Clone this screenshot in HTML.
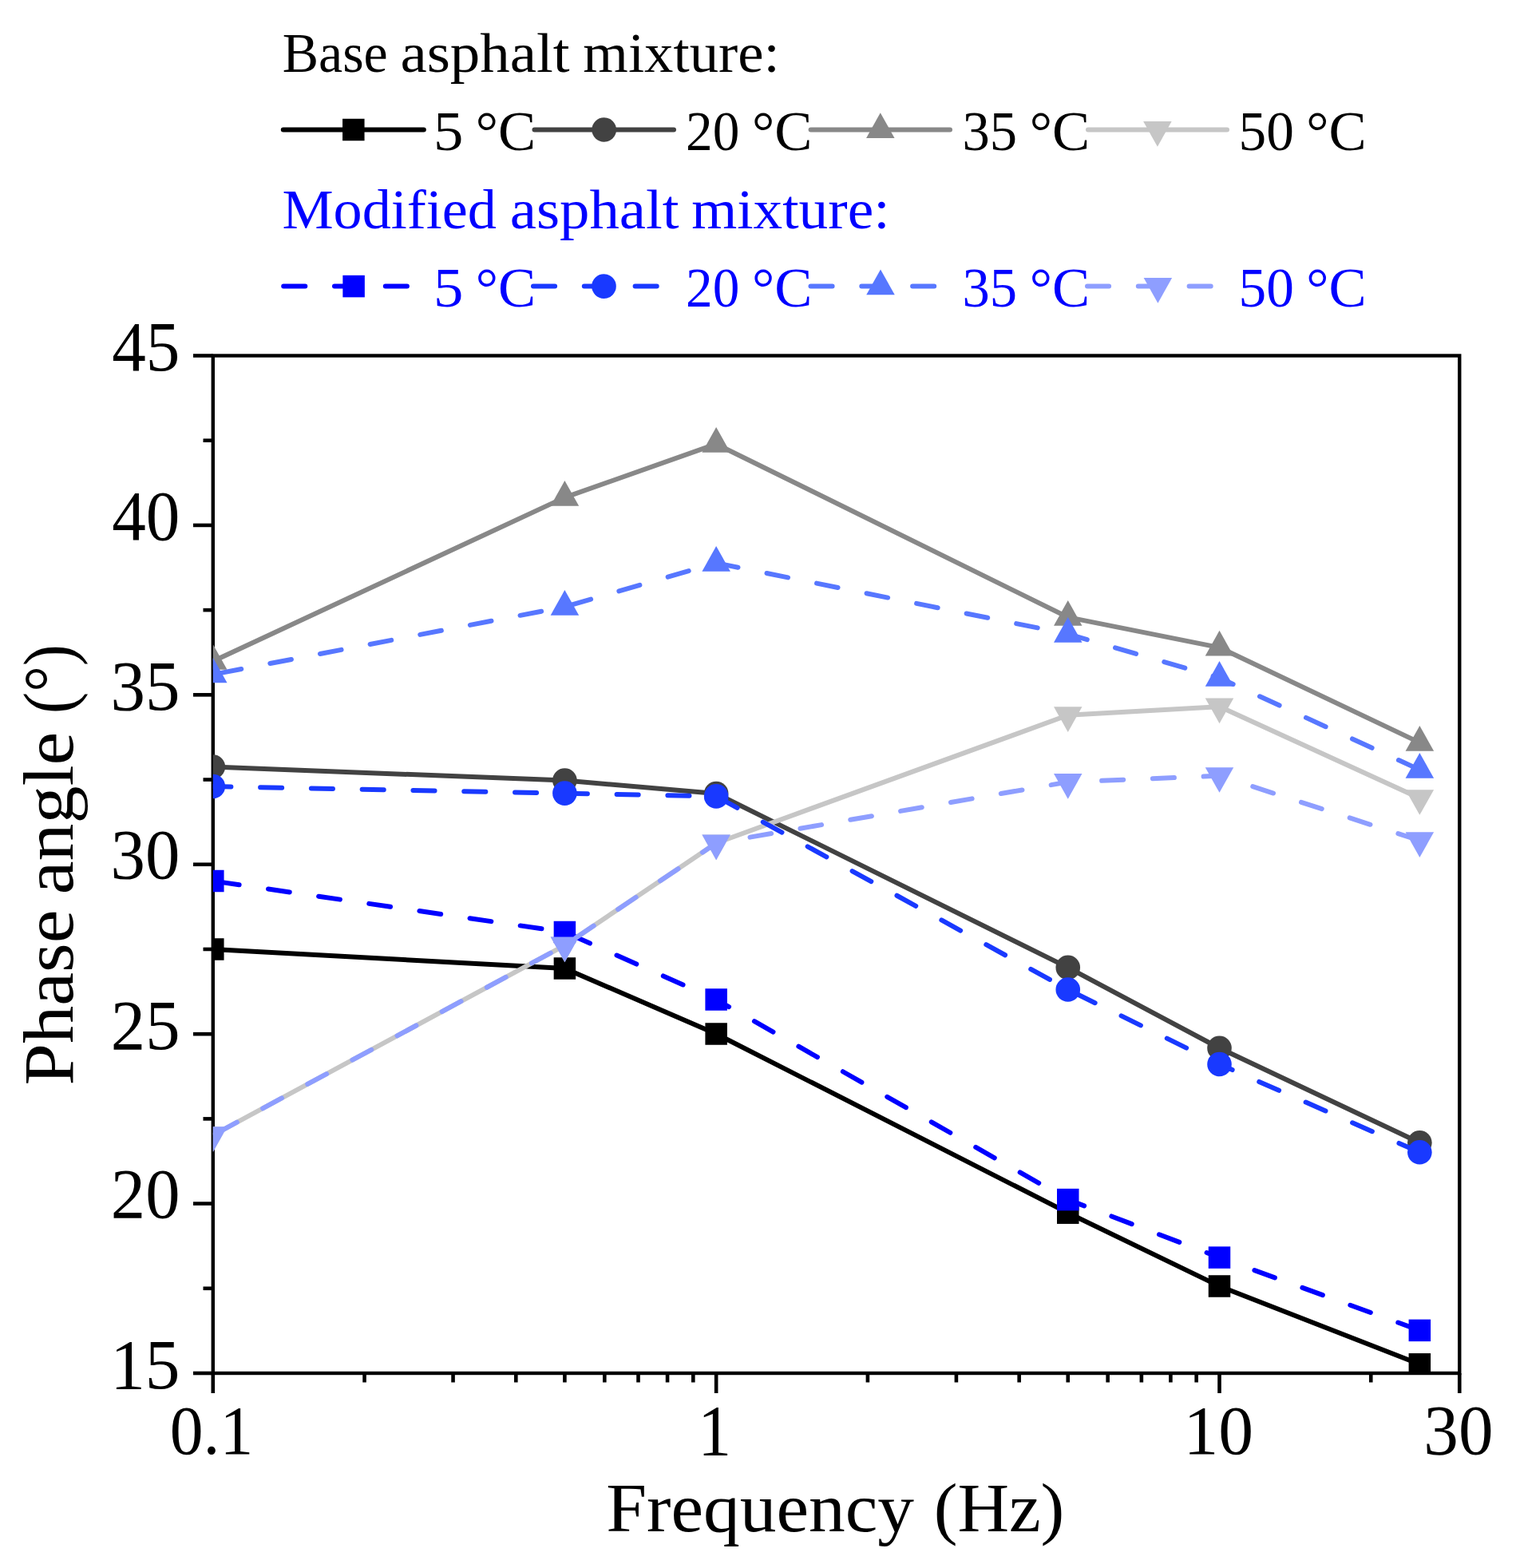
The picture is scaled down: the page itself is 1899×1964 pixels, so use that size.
<!DOCTYPE html>
<html><head><meta charset="utf-8"><title>Phase angle vs Frequency</title>
<style>html,body{margin:0;padding:0;background:#fff;width:1899px;height:1964px;overflow:hidden;}svg{display:block;}</style>
</head><body>
<svg width="1899" height="1964" viewBox="0 0 1899 1964">
<defs><clipPath id="pa"><rect x="266.8" y="445.5" width="1561.45" height="1274.5"/></clipPath></defs>
<rect width="1899" height="1964" fill="#fff"/>
<rect x="266.8" y="445.5" width="1561.45" height="1274.5" fill="none" stroke="#000" stroke-width="4.4"/>
<line x1="242" y1="1720.00" x2="266.8" y2="1720.00" stroke="#000" stroke-width="4.6"/>
<line x1="242" y1="1507.58" x2="266.8" y2="1507.58" stroke="#000" stroke-width="4.6"/>
<line x1="242" y1="1295.17" x2="266.8" y2="1295.17" stroke="#000" stroke-width="4.6"/>
<line x1="242" y1="1082.75" x2="266.8" y2="1082.75" stroke="#000" stroke-width="4.6"/>
<line x1="242" y1="870.33" x2="266.8" y2="870.33" stroke="#000" stroke-width="4.6"/>
<line x1="242" y1="657.92" x2="266.8" y2="657.92" stroke="#000" stroke-width="4.6"/>
<line x1="242" y1="445.50" x2="266.8" y2="445.50" stroke="#000" stroke-width="4.6"/>
<line x1="254.5" y1="1613.79" x2="266.8" y2="1613.79" stroke="#000" stroke-width="4.6"/>
<line x1="254.5" y1="1401.38" x2="266.8" y2="1401.38" stroke="#000" stroke-width="4.6"/>
<line x1="254.5" y1="1188.96" x2="266.8" y2="1188.96" stroke="#000" stroke-width="4.6"/>
<line x1="254.5" y1="976.54" x2="266.8" y2="976.54" stroke="#000" stroke-width="4.6"/>
<line x1="254.5" y1="764.12" x2="266.8" y2="764.12" stroke="#000" stroke-width="4.6"/>
<line x1="254.5" y1="551.71" x2="266.8" y2="551.71" stroke="#000" stroke-width="4.6"/>
<line x1="266.80" y1="1720.0" x2="266.80" y2="1745" stroke="#000" stroke-width="4.6"/>
<line x1="897.15" y1="1720.0" x2="897.15" y2="1745" stroke="#000" stroke-width="4.6"/>
<line x1="1527.50" y1="1720.0" x2="1527.50" y2="1745" stroke="#000" stroke-width="4.6"/>
<line x1="1828.25" y1="1720.0" x2="1828.25" y2="1745" stroke="#000" stroke-width="4.6"/>
<line x1="456.55" y1="1720.0" x2="456.55" y2="1731.5" stroke="#000" stroke-width="4.6"/>
<line x1="567.55" y1="1720.0" x2="567.55" y2="1731.5" stroke="#000" stroke-width="4.6"/>
<line x1="646.31" y1="1720.0" x2="646.31" y2="1731.5" stroke="#000" stroke-width="4.6"/>
<line x1="707.40" y1="1720.0" x2="707.40" y2="1731.5" stroke="#000" stroke-width="4.6"/>
<line x1="757.31" y1="1720.0" x2="757.31" y2="1731.5" stroke="#000" stroke-width="4.6"/>
<line x1="799.51" y1="1720.0" x2="799.51" y2="1731.5" stroke="#000" stroke-width="4.6"/>
<line x1="836.06" y1="1720.0" x2="836.06" y2="1731.5" stroke="#000" stroke-width="4.6"/>
<line x1="868.31" y1="1720.0" x2="868.31" y2="1731.5" stroke="#000" stroke-width="4.6"/>
<line x1="1086.90" y1="1720.0" x2="1086.90" y2="1731.5" stroke="#000" stroke-width="4.6"/>
<line x1="1197.90" y1="1720.0" x2="1197.90" y2="1731.5" stroke="#000" stroke-width="4.6"/>
<line x1="1276.66" y1="1720.0" x2="1276.66" y2="1731.5" stroke="#000" stroke-width="4.6"/>
<line x1="1337.75" y1="1720.0" x2="1337.75" y2="1731.5" stroke="#000" stroke-width="4.6"/>
<line x1="1387.66" y1="1720.0" x2="1387.66" y2="1731.5" stroke="#000" stroke-width="4.6"/>
<line x1="1429.86" y1="1720.0" x2="1429.86" y2="1731.5" stroke="#000" stroke-width="4.6"/>
<line x1="1466.41" y1="1720.0" x2="1466.41" y2="1731.5" stroke="#000" stroke-width="4.6"/>
<line x1="1498.66" y1="1720.0" x2="1498.66" y2="1731.5" stroke="#000" stroke-width="4.6"/>
<line x1="1717.25" y1="1720.0" x2="1717.25" y2="1731.5" stroke="#000" stroke-width="4.6"/>
<g clip-path="url(#pa)">
<polyline points="266.80,1189.00 707.40,1213.00 897.15,1295.00 1337.75,1519.20 1527.50,1611.00 1778.34,1708.80" fill="none" stroke="#000000" stroke-width="6.0" stroke-linejoin="round"/>
<rect x="253.05" y="1175.25" width="27.5" height="27.5" fill="#000000"/>
<rect x="693.65" y="1199.25" width="27.5" height="27.5" fill="#000000"/>
<rect x="883.40" y="1281.25" width="27.5" height="27.5" fill="#000000"/>
<rect x="1324.00" y="1505.45" width="27.5" height="27.5" fill="#000000"/>
<rect x="1513.75" y="1597.25" width="27.5" height="27.5" fill="#000000"/>
<rect x="1764.59" y="1695.05" width="27.5" height="27.5" fill="#000000"/>
<polyline points="266.80,960.50 707.40,977.50 897.15,994.00 1337.75,1211.90 1527.50,1312.80 1778.34,1431.30" fill="none" stroke="#424242" stroke-width="6.0" stroke-linejoin="round"/>
<circle cx="266.80" cy="960.50" r="15.3" fill="#424242"/>
<circle cx="707.40" cy="977.50" r="15.3" fill="#424242"/>
<circle cx="897.15" cy="994.00" r="15.3" fill="#424242"/>
<circle cx="1337.75" cy="1211.90" r="15.3" fill="#424242"/>
<circle cx="1527.50" cy="1312.80" r="15.3" fill="#424242"/>
<circle cx="1778.34" cy="1431.30" r="15.3" fill="#424242"/>
<polyline points="266.80,828.20 707.40,623.10 897.15,556.20 1337.75,773.10 1527.50,811.00 1778.34,930.10" fill="none" stroke="#888888" stroke-width="6.0" stroke-linejoin="round"/>
<polygon points="266.80,807.07 284.55,838.77 249.05,838.77" fill="#888888"/>
<polygon points="707.40,601.97 725.15,633.67 689.65,633.67" fill="#888888"/>
<polygon points="897.15,535.07 914.90,566.77 879.40,566.77" fill="#888888"/>
<polygon points="1337.75,751.97 1355.50,783.67 1320.00,783.67" fill="#888888"/>
<polygon points="1527.50,789.87 1545.25,821.57 1509.75,821.57" fill="#888888"/>
<polygon points="1778.34,908.97 1796.09,940.67 1760.59,940.67" fill="#888888"/>
<polyline points="266.80,1421.90 707.40,1184.10 897.15,1056.00 1337.75,895.80 1527.50,885.10 1778.34,999.70" fill="none" stroke="#c6c6c6" stroke-width="6.0" stroke-linejoin="round"/>
<polygon points="249.05,1411.33 284.55,1411.33 266.80,1443.03" fill="#c6c6c6"/>
<polygon points="689.65,1173.53 725.15,1173.53 707.40,1205.23" fill="#c6c6c6"/>
<polygon points="879.40,1045.43 914.90,1045.43 897.15,1077.13" fill="#c6c6c6"/>
<polygon points="1320.00,885.23 1355.50,885.23 1337.75,916.93" fill="#c6c6c6"/>
<polygon points="1509.75,874.53 1545.25,874.53 1527.50,906.23" fill="#c6c6c6"/>
<polygon points="1760.59,989.13 1796.09,989.13 1778.34,1020.83" fill="#c6c6c6"/>
<polyline points="266.80,1103.50 707.40,1167.50 897.15,1252.00 1337.75,1502.60 1527.50,1575.10 1778.34,1666.40" fill="none" stroke="#0000ff" stroke-width="6.0" stroke-linejoin="round" stroke-dasharray="27.1 36.7" stroke-dashoffset="-6.1" stroke-linecap="round"/>
<rect x="253.05" y="1089.75" width="27.5" height="27.5" fill="#0000ff"/>
<rect x="693.65" y="1153.75" width="27.5" height="27.5" fill="#0000ff"/>
<rect x="883.40" y="1238.25" width="27.5" height="27.5" fill="#0000ff"/>
<rect x="1324.00" y="1488.85" width="27.5" height="27.5" fill="#0000ff"/>
<rect x="1513.75" y="1561.35" width="27.5" height="27.5" fill="#0000ff"/>
<rect x="1764.59" y="1652.65" width="27.5" height="27.5" fill="#0000ff"/>
<polyline points="266.80,985.00 707.40,993.60 897.15,997.40 1337.75,1239.50 1527.50,1333.00 1778.34,1443.30" fill="none" stroke="#1939ff" stroke-width="6.0" stroke-linejoin="round" stroke-dasharray="27.1 36.7" stroke-dashoffset="4.5" stroke-linecap="round"/>
<circle cx="266.80" cy="985.00" r="15.3" fill="#1939ff"/>
<circle cx="707.40" cy="993.60" r="15.3" fill="#1939ff"/>
<circle cx="897.15" cy="997.40" r="15.3" fill="#1939ff"/>
<circle cx="1337.75" cy="1239.50" r="15.3" fill="#1939ff"/>
<circle cx="1527.50" cy="1333.00" r="15.3" fill="#1939ff"/>
<circle cx="1778.34" cy="1443.30" r="15.3" fill="#1939ff"/>
<polyline points="266.80,844.80 707.40,760.10 897.15,705.20 1337.75,794.10 1527.50,849.10 1778.34,964.20" fill="none" stroke="#5777ff" stroke-width="6.0" stroke-linejoin="round" stroke-dasharray="27.1 36.7" stroke-dashoffset="-9.0" stroke-linecap="round"/>
<polygon points="266.80,823.67 284.55,855.37 249.05,855.37" fill="#5777ff"/>
<polygon points="707.40,738.97 725.15,770.67 689.65,770.67" fill="#5777ff"/>
<polygon points="897.15,684.07 914.90,715.77 879.40,715.77" fill="#5777ff"/>
<polygon points="1337.75,772.97 1355.50,804.67 1320.00,804.67" fill="#5777ff"/>
<polygon points="1527.50,827.97 1545.25,859.67 1509.75,859.67" fill="#5777ff"/>
<polygon points="1778.34,943.07 1796.09,974.77 1760.59,974.77" fill="#5777ff"/>
<polyline points="266.80,1421.90 707.40,1184.10 897.15,1056.00 1337.75,979.50 1527.50,971.70 1778.34,1052.80" fill="none" stroke="#8e9eff" stroke-width="6.0" stroke-linejoin="round" stroke-dasharray="27.1 36.7" stroke-dashoffset="-7.0" stroke-linecap="round"/>
<polygon points="249.05,1411.33 284.55,1411.33 266.80,1443.03" fill="#8e9eff"/>
<polygon points="689.65,1173.53 725.15,1173.53 707.40,1205.23" fill="#8e9eff"/>
<polygon points="879.40,1045.43 914.90,1045.43 897.15,1077.13" fill="#8e9eff"/>
<polygon points="1320.00,968.93 1355.50,968.93 1337.75,1000.63" fill="#8e9eff"/>
<polygon points="1509.75,961.13 1545.25,961.13 1527.50,992.83" fill="#8e9eff"/>
<polygon points="1760.59,1042.23 1796.09,1042.23 1778.34,1073.93" fill="#8e9eff"/>
</g>
<g font-family="'Liberation Serif', serif">
<text transform="matrix(0.67979 0 0 0.70076 353.661 89.800)" font-size="100" fill="#000">Base</text>
<text transform="matrix(0.74910 0 0 0.70076 501.404 89.800)" font-size="100" fill="#000">asphalt</text>
<text transform="matrix(0.72736 0 0 0.70076 730.345 89.800)" font-size="100" fill="#000">mixture:</text>
<text transform="matrix(0.72147 0 0 0.70229 353.436 286.000)" font-size="100" fill="#0000ff">Modified</text>
<text transform="matrix(0.74803 0 0 0.70229 638.708 286.000)" font-size="100" fill="#0000ff">asphalt</text>
<text transform="matrix(0.73313 0 0 0.70229 866.234 286.000)" font-size="100" fill="#0000ff">mixture:</text>
<text transform="matrix(0.74750 0 0 0.69924 543.115 187.600)" font-size="100" fill="#000">5</text>
<text transform="matrix(0.70625 0 0 0.69924 595.769 187.600)" font-size="100" fill="#000">°C</text>
<text transform="matrix(0.74750 0 0 0.69924 543.115 383.700)" font-size="100" fill="#0000ff">5</text>
<text transform="matrix(0.70625 0 0 0.69924 595.769 383.700)" font-size="100" fill="#0000ff">°C</text>
<text transform="matrix(0.67283 0 0 0.69924 859.109 187.600)" font-size="100" fill="#000">20</text>
<text transform="matrix(0.70625 0 0 0.69924 941.969 187.600)" font-size="100" fill="#000">°C</text>
<text transform="matrix(0.67283 0 0 0.69924 859.109 383.700)" font-size="100" fill="#0000ff">20</text>
<text transform="matrix(0.70625 0 0 0.69924 941.969 383.700)" font-size="100" fill="#0000ff">°C</text>
<text transform="matrix(0.68571 0 0 0.69924 1205.571 187.600)" font-size="100" fill="#000">35</text>
<text transform="matrix(0.70625 0 0 0.69924 1289.669 187.600)" font-size="100" fill="#000">°C</text>
<text transform="matrix(0.68571 0 0 0.69924 1205.571 383.700)" font-size="100" fill="#0000ff">35</text>
<text transform="matrix(0.70625 0 0 0.69924 1289.669 383.700)" font-size="100" fill="#0000ff">°C</text>
<text transform="matrix(0.69333 0 0 0.69924 1551.540 187.600)" font-size="100" fill="#000">50</text>
<text transform="matrix(0.70625 0 0 0.69924 1636.369 187.600)" font-size="100" fill="#000">°C</text>
<text transform="matrix(0.69333 0 0 0.69924 1551.540 383.700)" font-size="100" fill="#0000ff">50</text>
<text transform="matrix(0.70625 0 0 0.69924 1636.369 383.700)" font-size="100" fill="#0000ff">°C</text>
<text transform="matrix(0.85213 0 0 0.89394 140.196 464.106)" font-size="100" fill="#000">45</text>
<text transform="matrix(0.85213 0 0 0.88060 140.196 675.655)" font-size="100" fill="#000">40</text>
<text transform="matrix(0.86923 0 0 0.89394 138.554 888.939)" font-size="100" fill="#000">35</text>
<text transform="matrix(0.86923 0 0 0.88060 138.554 1100.489)" font-size="100" fill="#000">30</text>
<text transform="matrix(0.86630 0 0 0.89394 138.835 1313.773)" font-size="100" fill="#000">25</text>
<text transform="matrix(0.86630 0 0 0.88060 138.835 1525.322)" font-size="100" fill="#000">20</text>
<text transform="matrix(0.87356 0 0 0.88060 138.138 1738.619)" font-size="100" fill="#000">15</text>
<text transform="matrix(0.83652 0 0 0.87647 212.654 1821.047)" font-size="100" fill="#000">0.1</text>
<text transform="matrix(0.83714 0 0 0.90303 874.266 1822.800)" font-size="100" fill="#000">1</text>
<text transform="matrix(0.87701 0 0 0.87647 1482.407 1821.047)" font-size="100" fill="#000">10</text>
<text transform="matrix(0.87253 0 0 0.88955 1783.337 1821.021)" font-size="100" fill="#000">30</text>
<text transform="matrix(0 -0.94317 0.88244 0 90.800 1359.430)" font-size="100" fill="#000">Phase</text>
<text transform="matrix(0 -0.93971 0.88244 0 90.800 1120.159)" font-size="100" fill="#000">angle</text>
<text transform="matrix(0 -0.81633 0.88244 0 90.800 893.965)" font-size="100" fill="#000">(°)</text>
<text transform="matrix(0.91456 0 0 0.87023 759.156 1917.900)" font-size="100" fill="#000">Frequency</text>
<text transform="matrix(0.89371 0 0 0.87023 1169.625 1917.900)" font-size="100" fill="#000">(Hz)</text>
</g>
<line x1="354.8" y1="162.5" x2="530.8" y2="162.5" stroke="#000000" stroke-width="6.0" stroke-linecap="round"/>
<rect x="429.05" y="148.75" width="27.5" height="27.5" fill="#000000"/>
<line x1="669.5" y1="162.5" x2="844.0" y2="162.5" stroke="#424242" stroke-width="6.0" stroke-linecap="round"/>
<circle cx="756.70" cy="162.50" r="15.3" fill="#424242"/>
<line x1="1015.6" y1="162.5" x2="1190.0" y2="162.5" stroke="#888888" stroke-width="6.0" stroke-linecap="round"/>
<polygon points="1102.80,141.37 1120.55,173.07 1085.05,173.07" fill="#888888"/>
<line x1="1363.0" y1="162.5" x2="1537.0" y2="162.5" stroke="#c6c6c6" stroke-width="6.0" stroke-linecap="round"/>
<polygon points="1432.15,151.93 1467.65,151.93 1449.90,183.63" fill="#c6c6c6"/>
<line x1="355.2" y1="358.6" x2="530.8" y2="358.6" stroke="#0000ff" stroke-width="6.0" stroke-linecap="round" stroke-dasharray="27.1 36.7"/>
<rect x="429.35" y="344.85" width="27.5" height="27.5" fill="#0000ff"/>
<line x1="668.0" y1="358.6" x2="844.0" y2="358.6" stroke="#1939ff" stroke-width="6.0" stroke-linecap="round" stroke-dasharray="27.1 36.7"/>
<circle cx="756.50" cy="358.60" r="15.3" fill="#1939ff"/>
<line x1="1015.5" y1="358.6" x2="1190.0" y2="358.6" stroke="#5777ff" stroke-width="6.0" stroke-linecap="round" stroke-dasharray="27.1 36.7"/>
<polygon points="1103.00,337.47 1120.75,369.17 1085.25,369.17" fill="#5777ff"/>
<line x1="1362.0" y1="358.6" x2="1537.0" y2="358.6" stroke="#8e9eff" stroke-width="6.0" stroke-linecap="round" stroke-dasharray="27.1 36.7"/>
<polygon points="1432.65,348.03 1468.15,348.03 1450.40,379.73" fill="#8e9eff"/>
</svg>
</body></html>
